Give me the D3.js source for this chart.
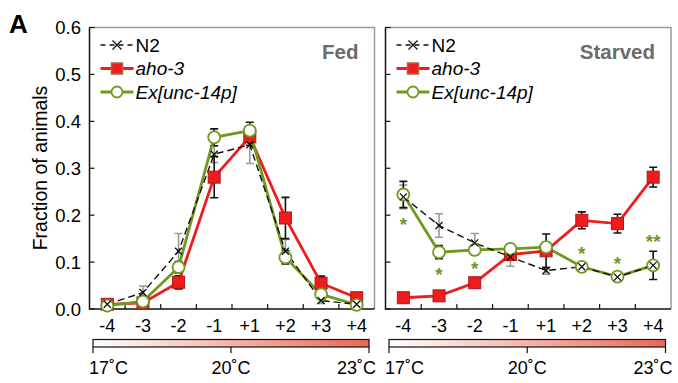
<!DOCTYPE html>
<html>
<head>
<meta charset="utf-8">
<script src="https://cdn.jsdelivr.net/npm/d3@7"></script>
<style>
  body { margin: 0; background: #fff; }
  svg { display: block; font-family: 'Liberation Sans', Arial, sans-serif; }
</style>
</head>
<body>
<div id="chart"></div>
<script>
// Data
const categories = ['-4', '-3', '-2', '-1', '+1', '+2', '+3', '+4'];
const yTicks = [0, 0.1, 0.2, 0.3, 0.4, 0.5, 0.6];

const fedN2 = [0.010, 0.035, 0.123, 0.330, 0.350, 0.123, 0.018, 0.010];
const fedN2Err = [0.004, 0.014, 0.038, 0.018, 0.040, 0.025, 0.006, 0.004];
const fedAho = [0.010, 0.013, 0.057, 0.281, 0.367, 0.194, 0.055, 0.024];
const fedAhoErr = [0.003, 0.004, 0.014, 0.044, 0.018, 0.044, 0.015, 0.005];
const fedEx = [0.007, 0.016, 0.089, 0.366, 0.380, 0.110, 0.031, 0.009];
const fedExErr = [0.003, 0.005, 0.012, 0.018, 0.018, 0.014, 0.010, 0.004];

const stvN2 = [0.239, 0.178, 0.141, 0.111, 0.082, 0.090, 0.068, 0.093];
const stvN2Err = [0.025, 0.025, 0.020, 0.020, 0.008, 0.008, 0.006, 0.010];
const stvAho = [0.024, 0.028, 0.056, 0.116, 0.124, 0.189, 0.182, 0.281];
const stvAhoErr = [0.004, 0.004, 0.010, 0.008, 0.036, 0.018, 0.020, 0.021];
const stvEx = [0.244, 0.121, 0.126, 0.128, 0.132, 0.090, 0.069, 0.093];
const stvExErr = [0.028, 0.014, 0.010, 0.008, 0.010, 0.006, 0.006, 0.030];

const sigLabels = ['*', '*', '*', '', '', '*', '*', '**'];
const sigHeights = [0.188, 0.082, 0.093, 0, 0, 0.126, 0.105, 0.152];

const tempTicks = [17, 20, 23];

const RED = '#ee1c1c';
const GREEN = '#6e9a1e';

const W = 678, H = 383;
const svg = d3.select('#chart').append('svg').attr('width', W).attr('height', H);

const y = d3.scaleLinear().domain([0, 0.6]).range([309, 27.5]);

// Panel label
svg.append('text').attr('x', 9).attr('y', 33)
  .attr('font-size', 26).attr('font-weight', 'bold').text('A');

// Y axis title
svg.append('text')
  .attr('transform', 'translate(47,168) rotate(-90)')
  .attr('text-anchor', 'middle').attr('font-size', 19.5)
  .text('Fraction of animals');

// Y tick labels (left panel only)
svg.append('g').selectAll('text').data(yTicks).join('text')
  .attr('x', 81).attr('y', d => y(d) + 6.5)
  .attr('text-anchor', 'end').attr('font-size', 18.5)
  .text(d => d.toFixed(1));

function drawPanel(x0, x1, title, n2, n2e, aho, ahoe, ex, exe, sig) {
  const x = d3.scaleBand().domain(categories).range([x0, x1]);
  const cx = d => x(d) + x.bandwidth() / 2;
  const g = svg.append('g');

  // frame: grey top/right, black left/bottom
  g.append('path')
    .attr('d', `M${x0},${y(0.6)}H${x1}V${y(0)}`)
    .attr('fill', 'none').attr('stroke', '#9a9a9a').attr('stroke-width', 1.5);
  g.append('path')
    .attr('d', `M${x0},${y(0.6)}V${y(0)}H${x1}`)
    .attr('fill', 'none').attr('stroke', '#111').attr('stroke-width', 1.5);

  // inward y ticks
  g.append('g').selectAll('line').data(yTicks).join('line')
    .attr('x1', x0).attr('x2', x0 + 5)
    .attr('y1', d => y(d)).attr('y2', d => y(d))
    .attr('stroke', '#111').attr('stroke-width', 1.2);

  // inward x ticks at band boundaries
  g.append('g').selectAll('line').data(categories.slice(1)).join('line')
    .attr('x1', d => x(d)).attr('x2', d => x(d))
    .attr('y1', y(0)).attr('y2', y(0) - 5)
    .attr('stroke', '#111').attr('stroke-width', 1.2);

  // x labels
  g.append('g').selectAll('text').data(categories).join('text')
    .attr('x', cx).attr('y', 332)
    .attr('text-anchor', 'middle').attr('font-size', 18)
    .text(d => d);

  // colour bar
  const gid = 'grad' + Math.round(x0);
  const grad = svg.append('defs').append('linearGradient').attr('id', gid);
  grad.append('stop').attr('offset', '0%').attr('stop-color', '#ffffff');
  grad.append('stop').attr('offset', '100%').attr('stop-color', '#ec6853');
  const t = d3.scaleLinear().domain([17, 23]).range([x0 + 3.5, x1 - 5.5]);
  g.append('rect')
    .attr('x', t(17)).attr('y', 339.5)
    .attr('width', t(23) - t(17)).attr('height', 7.5)
    .attr('fill', `url(#${gid})`).attr('stroke', '#111').attr('stroke-width', 1.2);
  g.append('g').selectAll('line').data(tempTicks).join('line')
    .attr('x1', t).attr('x2', t).attr('y1', 347).attr('y2', 353)
    .attr('stroke', '#111').attr('stroke-width', 1.2);
  g.append('g').selectAll('text').data(tempTicks).join('text')
    .attr('x', t).attr('y', 374)
    .attr('text-anchor', (d, i) => i === 0 ? 'start' : i === 2 ? 'end' : 'middle')
    .attr('dx', (d, i) => i === 0 ? -4 : i === 2 ? 7 : 0)
    .attr('font-size', 18)
    .text(d => d + '˚C');

  // title
  g.append('text').attr('x', x1 - 16).attr('y', 59)
    .attr('text-anchor', 'end').attr('font-size', 20.5).attr('font-weight', 'bold')
    .attr('fill', '#6b6b6b').text(title);

  const line = d3.line().x((d, i) => cx(categories[i])).y(d => y(d));

  function errBars(vals, errs, color) {
    const eg = g.append('g').attr('stroke', color).attr('stroke-width', 1.6).attr('fill', 'none');
    eg.selectAll('path').data(vals).join('path')
      .attr('d', (d, i) => {
        const xc = cx(categories[i]), hi = y(d + errs[i]), lo = y(Math.max(0, d - errs[i]));
        return `M${xc},${hi}V${lo}M${xc - 4},${hi}H${xc + 4}M${xc - 4},${lo}H${xc + 4}`;
      });
  }

  // N2 error bars (grey), then others
  errBars(n2, n2e, '#9a9a9a');
  errBars(aho, ahoe, '#111');
  errBars(ex, exe, '#111');

  // lines
  g.append('path').datum(aho).attr('d', line)
    .attr('fill', 'none').attr('stroke', RED).attr('stroke-width', 2.8);
  g.append('path').datum(ex).attr('d', line)
    .attr('fill', 'none').attr('stroke', GREEN).attr('stroke-width', 2.8);
  g.append('path').datum(n2).attr('d', line)
    .attr('fill', 'none').attr('stroke', '#111').attr('stroke-width', 1.4)
    .attr('stroke-dasharray', '7,4');

  // markers
  g.append('g').selectAll('rect').data(aho).join('rect')
    .attr('x', (d, i) => cx(categories[i]) - 6).attr('y', d => y(d) - 6)
    .attr('width', 12).attr('height', 12)
    .attr('fill', RED).attr('stroke', '#b01818').attr('stroke-width', 1);
  g.append('g').selectAll('circle').data(ex).join('circle')
    .attr('cx', (d, i) => cx(categories[i])).attr('cy', d => y(d))
    .attr('r', 6).attr('fill', '#fff').attr('stroke', GREEN).attr('stroke-width', 1.8);
  g.append('g').selectAll('path').data(n2).join('path')
    .attr('d', (d, i) => {
      const xc = cx(categories[i]), yc = y(d), s = 3.5;
      return `M${xc - s},${yc - s}L${xc + s},${yc + s}M${xc - s},${yc + s}L${xc + s},${yc - s}`;
    })
    .attr('stroke', '#111').attr('stroke-width', 1.3);

  // significance stars
  if (sig) {
    g.append('g').selectAll('text').data(sigLabels).join('text')
      .attr('x', (d, i) => cx(categories[i])).attr('y', (d, i) => y(sigHeights[i]) + 10)
      .attr('text-anchor', 'middle').attr('font-size', 19).attr('font-weight', 'bold')
      .attr('fill', GREEN).text(d => d);
  }

  // legend
  const lx = x0 + 11, ly = [45, 68.5, 92];
  const lg = g.append('g');
  lg.append('line').attr('x1', lx).attr('x2', lx + 33).attr('y1', ly[0]).attr('y2', ly[0])
    .attr('stroke', '#111').attr('stroke-width', 1.4).attr('stroke-dasharray', '5,4');
  lg.append('path')
    .attr('d', `M${lx + 12},${ly[0] - 4.5}L${lx + 21},${ly[0] + 4.5}M${lx + 12},${ly[0] + 4.5}L${lx + 21},${ly[0] - 4.5}`)
    .attr('stroke', '#111').attr('stroke-width', 1.3);
  lg.append('line').attr('x1', lx).attr('x2', lx + 33).attr('y1', ly[1]).attr('y2', ly[1])
    .attr('stroke', RED).attr('stroke-width', 2.8);
  lg.append('rect').attr('x', lx + 11).attr('y', ly[1] - 5.5).attr('width', 11).attr('height', 11)
    .attr('fill', RED).attr('stroke', '#a8643c').attr('stroke-width', 1.5);
  lg.append('line').attr('x1', lx).attr('x2', lx + 33).attr('y1', ly[2]).attr('y2', ly[2])
    .attr('stroke', GREEN).attr('stroke-width', 2.8);
  lg.append('circle').attr('cx', lx + 16.5).attr('cy', ly[2]).attr('r', 5.5)
    .attr('fill', '#fff').attr('stroke', GREEN).attr('stroke-width', 1.8);
  const names = ['N2', 'aho-3', 'Ex[unc-14p]'];
  lg.selectAll('text.lbl').data(names).join('text')
    .attr('x', lx + 35).attr('y', (d, i) => ly[i] + 6.5)
    .attr('font-size', 19).attr('font-style', (d, i) => i ? 'italic' : 'normal')
    .text(d => d);
}

drawPanel(89.5, 374.5, 'Fed', fedN2, fedN2Err, fedAho, fedAhoErr, fedEx, fedExErr, false);
drawPanel(385.5, 671, 'Starved', stvN2, stvN2Err, stvAho, stvAhoErr, stvEx, stvExErr, true);
</script>
</body>
</html>
